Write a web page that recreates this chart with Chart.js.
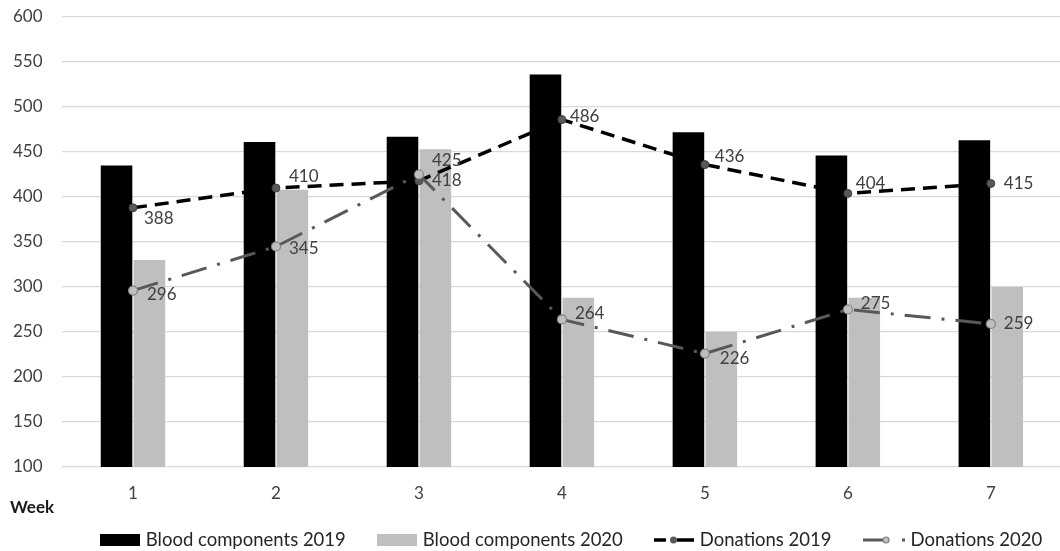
<!DOCTYPE html>
<html>
<head>
<meta charset="utf-8">
<title>Blood components and donations by week</title>
<script src="https://cdn.jsdelivr.net/npm/chart.js@4.4.1/dist/chart.umd.min.js"></script>
<style>
  html, body { margin: 0; padding: 0; background: #ffffff; overflow: hidden; }
  #wrap { position: absolute; left: 0; top: 0; width: 1068px; height: 551px; }
</style>
</head>
<body>
<div id="wrap"><canvas id="chart" width="1068" height="551"></canvas></div>
<script>
// Weekly values
const weeks = ['1', '2', '3', '4', '5', '6', '7'];
const components2019 = [435, 461, 467, 536, 472, 446, 463];
const components2020 = [330, 408, 453, 288, 250, 288, 300];
const donations2019 = [388, 410, 418, 486, 436, 404, 415];
const donations2020 = [296, 345, 425, 264, 226, 275, 259];
const yMin = 100, yMax = 600, yStep = 50;

const FONT = 'Lato, "Open Sans", sans-serif';
const TEXT = '#404040';

// Legend swatches, one per dataset
function swatch(w, h, paint) {
  const c = document.createElement('canvas');
  c.width = w; c.height = h;
  paint(c.getContext('2d'), w, h);
  return c;
}
const legendIcons = [
  swatch(40, 12, (g, w, h) => { g.fillStyle = '#000000'; g.fillRect(0, 0, w, h); }),
  swatch(40, 12, (g, w, h) => { g.fillStyle = '#bfbfbf'; g.fillRect(0, 0, w, h); }),
  swatch(40, 12, (g, w, h) => {
    g.strokeStyle = '#000000'; g.lineWidth = 3.5;
    g.beginPath(); g.moveTo(0, 6); g.lineTo(12, 6); g.moveTo(23, 6); g.lineTo(40, 6); g.stroke();
    g.fillStyle = '#595959'; g.beginPath(); g.arc(19.5, 6, 3.5, 0, Math.PI * 2); g.fill();
  }),
  swatch(42, 12, (g, w, h) => {
    g.strokeStyle = '#595959'; g.lineWidth = 3;
    g.beginPath(); g.moveTo(0, 6); g.lineTo(20, 6); g.stroke();
    g.fillStyle = '#bfbfbf'; g.strokeStyle = '#7f7f7f'; g.lineWidth = 1.2;
    g.beginPath(); g.arc(23, 6, 3, 0, Math.PI * 2); g.fill(); g.stroke();
    g.fillStyle = '#595959'; g.fillRect(39, 4.5, 3, 3);
  })
];

// Value labels next to the line markers
const valueLabels = {
  id: 'valueLabels',
  afterDatasetsDraw(chart) {
    const ctx = chart.ctx;
    ctx.save();
    ctx.font = '17px ' + FONT;
    ctx.fillStyle = TEXT;
    ctx.textAlign = 'left';
    ctx.textBaseline = 'middle';
    chart.data.datasets.forEach((ds, i) => {
      if (!ds.labelOffsets || !chart.isDatasetVisible(i)) return;
      chart.getDatasetMeta(i).data.forEach((pt, j) => {
        const [dx, dy] = ds.labelOffsets[j];
        ctx.fillText(String(ds.data[j]), pt.x + dx, pt.y + dy);
      });
    });
    ctx.restore();
  }
};

// "Week" caption and a single-row legend under the plot
const footer = {
  id: 'footer',
  afterDraw(chart, args, opts) {
    const ctx = chart.ctx;
    const area = chart.chartArea;
    ctx.save();
    ctx.textAlign = 'left';
    ctx.textBaseline = 'middle';

    ctx.font = 'bold 17px ' + FONT;
    ctx.fillStyle = '#1a1a1a';
    ctx.fillText('Week', 10, area.bottom + 41);

    ctx.font = opts.fontSize + 'px ' + FONT;
    const items = chart.data.datasets.map((ds, i) => ({
      icon: legendIcons[i],
      text: ds.label,
      w: legendIcons[i].width + opts.iconGap + ctx.measureText(ds.label).width
    }));
    const total = items.reduce((s, it) => s + it.w, 0) + opts.itemGap * (items.length - 1);
    let x = opts.centerX - total / 2;
    const y = area.bottom + opts.offsetY;
    ctx.fillStyle = '#262626';
    items.forEach(it => {
      ctx.drawImage(it.icon, Math.round(x), Math.round(y - it.icon.height / 2));
      ctx.fillText(it.text, x + it.icon.width + opts.iconGap, y);
      x += it.w + opts.itemGap;
    });
    ctx.restore();
  }
};

new Chart(document.getElementById('chart'), {
  type: 'bar',
  data: {
    labels: weeks,
    datasets: [
      {
        label: 'Blood components 2019',
        data: components2019,
        backgroundColor: '#000000',
        categoryPercentage: 0.46,
        barPercentage: 0.96,
        order: 2
      },
      {
        label: 'Blood components 2020',
        data: components2020,
        backgroundColor: '#bfbfbf',
        categoryPercentage: 0.46,
        barPercentage: 0.96,
        order: 2
      },
      {
        type: 'line',
        label: 'Donations 2019',
        data: donations2019,
        borderColor: '#000000',
        borderWidth: 3.5,
        borderDash: [14, 8],
        borderCapStyle: 'butt',
        tension: 0,
        pointRadius: 4,
        pointBackgroundColor: '#595959',
        pointBorderColor: '#404040',
        pointBorderWidth: 1,
        order: 1,
        labelOffsets: [[11, 11], [13, -11], [13, 0], [8, -3], [10, -8], [8, -10], [13, 0]]
      },
      {
        type: 'line',
        label: 'Donations 2020',
        data: donations2020,
        borderColor: '#595959',
        borderWidth: 3,
        borderDash: [26, 11, 3, 11],
        borderCapStyle: 'butt',
        tension: 0,
        pointRadius: 4.5,
        pointBackgroundColor: '#bfbfbf',
        pointBorderColor: '#7f7f7f',
        pointBorderWidth: 1.2,
        order: 0,
        labelOffsets: [[14, 4], [13, 2], [13, -14], [13, -6], [15, 5], [13, -6], [13, 0]]
      }
    ]
  },
  options: {
    responsive: false,
    animation: false,
    devicePixelRatio: 1,
    layout: { padding: { top: 17, right: 0, bottom: 44, left: 0 } },
    scales: {
      x: {
        grid: { display: false, drawTicks: false },
        border: { display: false },
        ticks: { color: TEXT, font: { family: FONT, size: 17 }, padding: 16 },
        afterFit(scale) { scale.height = 40; }
      },
      y: {
        min: yMin,
        max: yMax,
        grid: { color: '#d9d9d9', lineWidth: 1.3, drawTicks: false },
        border: { display: false },
        ticks: { stepSize: yStep, color: TEXT, font: { family: FONT, size: 17 }, padding: 19 },
        afterFit(scale) {
          scale.width = 61.5;
          scale.paddingTop = 0;
          scale.paddingBottom = 0;
        }
      }
    },
    plugins: {
      tooltip: { enabled: false },
      legend: { display: false },
      footer: { fontSize: 18.5, iconGap: 6, itemGap: 31, centerX: 571, offsetY: 73 }
    }
  },
  plugins: [valueLabels, footer]
});
</script>
</body>
</html>
